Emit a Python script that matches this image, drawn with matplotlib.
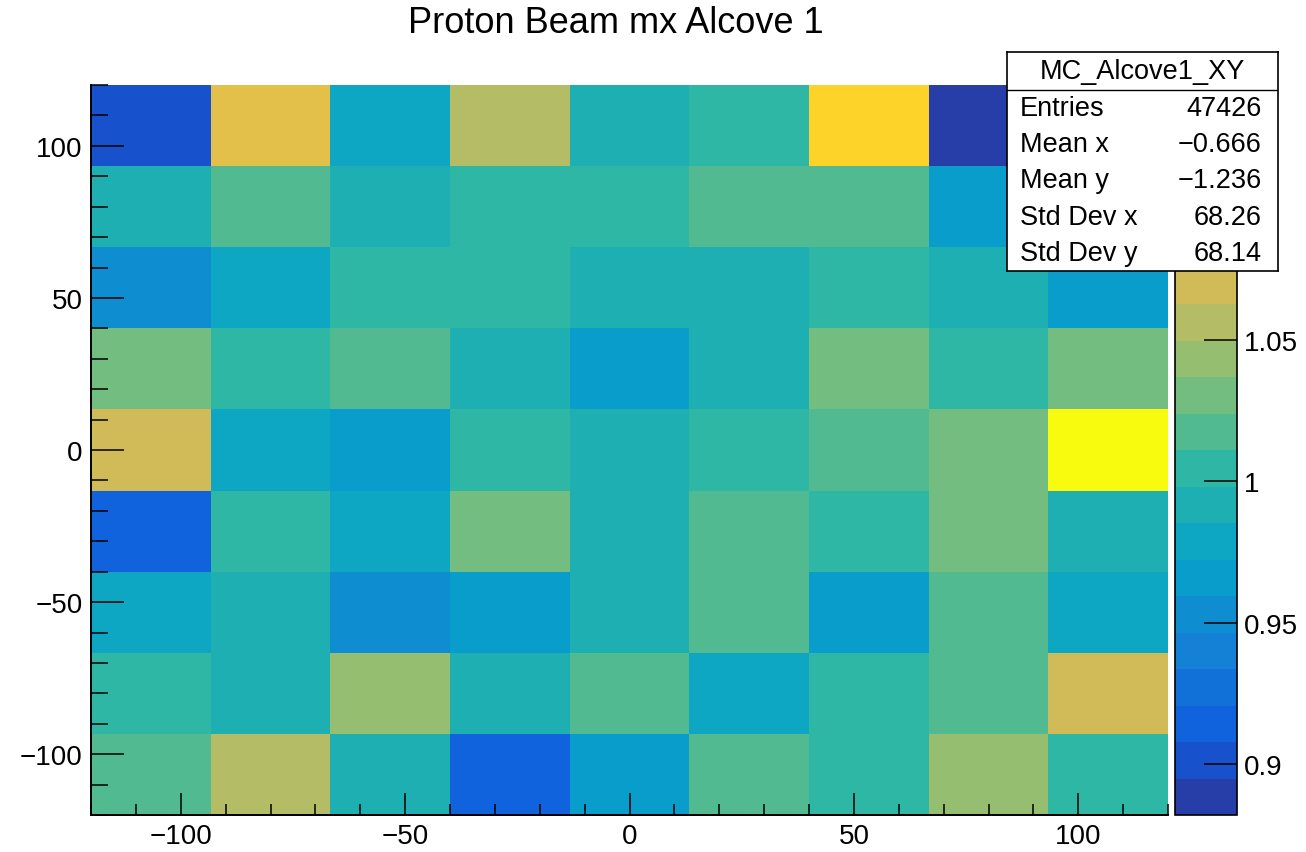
import matplotlib
matplotlib.use("Agg")
import matplotlib.pyplot as plt
import numpy as np
from matplotlib.colors import LinearSegmentedColormap, ListedColormap, BoundaryNorm
from matplotlib.ticker import MultipleLocator

plt.rcParams['font.family'] = ['Liberation Sans', 'DejaVu Sans']

### histogram binning (9 x 9 bins)
x_edges = [-120, -93.33, -66.67, -40, -13.33, 13.33, 40, 66.67, 93.33, 120]
y_edges = [-120, -93.33, -66.67, -40, -13.33, 13.33, 40, 66.67, 93.33, 120]

### bin contents, top row (y ~ +107) first
row0 = [0.901, 1.082, 0.978, 1.056, 0.991, 1.004, 1.107, 0.882, 1.004]
row1 = [0.991, 1.017, 0.991, 1.004, 1.004, 1.017, 1.017, 0.966, 0.991]
row2 = [0.953, 0.978, 1.004, 1.004, 0.991, 0.991, 1.004, 0.991, 0.966]
row3 = [1.030, 1.004, 1.017, 0.991, 0.966, 0.991, 1.030, 1.004, 1.030]
row4 = [1.069, 0.978, 0.966, 1.004, 0.991, 1.004, 1.017, 1.030, 1.140]
row5 = [0.914, 1.004, 0.978, 1.030, 0.991, 1.017, 1.004, 1.030, 0.991]
row6 = [0.978, 0.991, 0.953, 0.966, 0.991, 1.017, 0.966, 1.017, 0.978]
row7 = [1.004, 0.991, 1.043, 0.991, 1.017, 0.978, 1.004, 1.017, 1.069]
row8 = [1.017, 1.056, 0.991, 0.914, 0.966, 1.017, 1.004, 1.043, 1.004]

cbar_ticks = [0.9, 0.95, 1.0, 1.05]
cbar_labels = ['0.9', '0.95', '1', '1.05']

stats_name = 'MC_Alcove1_XY'
stats_keys = ['Entries', 'Mean x', 'Mean y', 'Std Dev x', 'Std Dev y']
stats_vals = ['47426', '\u22120.666', '\u22121.236', '68.26', '68.14']

### ROOT kBird palette, 20 contours
stops = [0.0, 0.125, 0.25, 0.375, 0.5, 0.625, 0.75, 0.875, 1.0]
red = [0.2082, 0.0592, 0.0780, 0.0232, 0.1802, 0.5301, 0.8186, 0.9956, 0.9764]
green = [0.1664, 0.3599, 0.5041, 0.6419, 0.7178, 0.7492, 0.7328, 0.7862, 0.9832]
blue = [0.5293, 0.8684, 0.8385, 0.7914, 0.6425, 0.4662, 0.3499, 0.1968, 0.0539]
bird = LinearSegmentedColormap.from_list(
    'bird', [(s, (r, g, b)) for s, r, g, b in zip(stops, red, green, blue)], N=255)
ndiv = 20
cols = [bird(int((i + 0.99) * 255 / ndiv) / 254.0) for i in range(ndiv)]
cmap = ListedColormap(cols)

z = np.array([row0, row1, row2, row3, row4, row5, row6, row7, row8])[::-1]
zmin, zmax = z.min(), z.max()
levels = np.linspace(zmin, zmax, ndiv + 1)
norm = BoundaryNorm(levels, ndiv, clip=True)

W, H = 1306, 853
fig = plt.figure(figsize=(W / 100, H / 100), dpi=100)

def box(x0, y0, x1, y1):
    # pixel box (top-left origin) -> figure fraction
    return [x0 / W, 1 - y1 / H, (x1 - x0) / W, (y1 - y0) / H]

ax = fig.add_axes(box(91, 86, 1168, 816))
mesh = ax.pcolormesh(x_edges, y_edges, z, cmap=cmap, norm=norm)
ax.set_xlim(-120, 120)
ax.set_ylim(-120, 120)
ax.set_xticks([-100, -50, 0, 50, 100])
ax.set_yticks([-100, -50, 0, 50, 100])
ax.xaxis.set_minor_locator(MultipleLocator(10))
ax.yaxis.set_minor_locator(MultipleLocator(10))
ax.tick_params(axis='x', which='major', direction='in', length=15.8, width=1.1,
               labelsize=20, pad=6)
ax.tick_params(axis='x', which='minor', direction='in', length=7.9, width=1.1)
ax.tick_params(axis='y', which='major', direction='in', length=23.8, width=1.1,
               labelsize=20, pad=6)
ax.tick_params(axis='y', which='minor', direction='in', length=11.9, width=1.1)
for s in ['top', 'right']:
    ax.spines[s].set_visible(False)
for s in ['left', 'bottom']:
    ax.spines[s].set_linewidth(1.4)

fig.text(616 / W, 1 - 33 / H, 'Proton Beam mx Alcove 1', fontsize=26,
         ha='center', va='baseline')

### palette axis
cax = fig.add_axes(box(1175, 86, 1237, 816))
cb = fig.colorbar(mesh, cax=cax, ticks=cbar_ticks)
cb.ax.set_yticklabels(cbar_labels)
cb.outline.set_linewidth(1.2)
cb.outline.set_edgecolor('black')
cax.tick_params(axis='y', which='major', direction='in', length=23.8, width=1.1,
                labelsize=20, pad=5, right=True, left=False)
cax.minorticks_off()

### stats box
sb = fig.add_axes(box(1007, 53, 1278, 272))
sb.set_xlim(0, 1)
sb.set_ylim(0, 1)
sb.set_xticks([])
sb.set_yticks([])
sb.set_facecolor('white')
for s in sb.spines.values():
    s.set_linewidth(1.2)
sep = 1 - (91 - 53) / (272 - 53)
sb.axhline(sep, color='black', lw=1.0)
sb.text(0.5, (1 + sep) / 2, stats_name, fontsize=19.5, ha='center', va='center')
for i in range(len(stats_keys)):
    yc = sep - (i + 0.5) * sep / len(stats_keys)
    sb.text(13 / 271, yc, stats_keys[i], fontsize=19.5, ha='left', va='center')
    sb.text(255 / 271, yc, stats_vals[i], fontsize=19.5, ha='right', va='center')

fig.savefig('out.png', dpi=100)
